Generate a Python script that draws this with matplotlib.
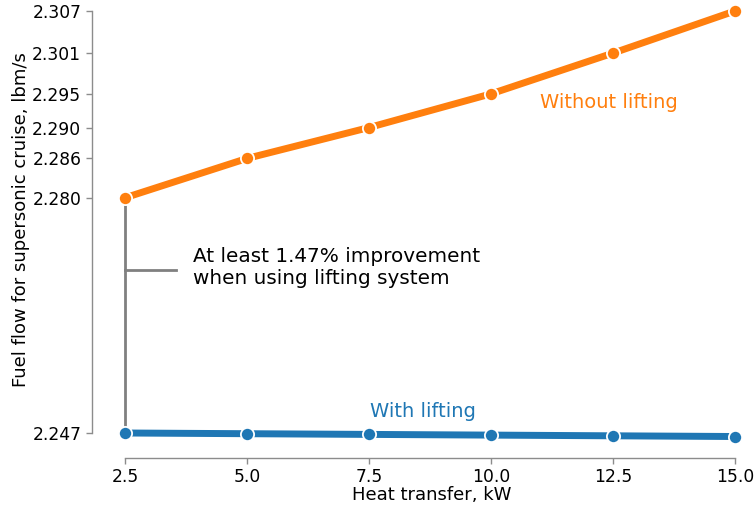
import numpy as np
import matplotlib
matplotlib.use("Agg")
import matplotlib.pyplot as plt

# data
heat_kw = [2.5, 5.0, 7.5, 10.0, 12.5, 15.0]
fuel_without = [2.2802, 2.2858, 2.2902, 2.2950, 2.3008, 2.3068]
fuel_with = [2.2467, 2.2466, 2.2465, 2.2464, 2.2463, 2.2462]

orange = "#ff7f0e"
blue = "#1f77b4"
spine_gray = "0.55"

fig = plt.figure(figsize=(7.56, 5.09), dpi=100)
W, H = 756, 509
ax_left, ax_right, ax_top, ax_bot = 91.7, 750, 2, 458
ax = fig.add_axes([ax_left / W, 1 - ax_bot / H, (ax_right - ax_left) / W, (ax_bot - ax_top) / H])

line_kw = dict(linewidth=5, marker="o", markersize=9.5, markeredgecolor="white", markeredgewidth=1.3)
ax.plot(heat_kw, fuel_without, color=orange, zorder=3, **line_kw)
ax.plot(heat_kw, fuel_with, color=blue, zorder=3, **line_kw)

# bracket showing the gap at the lowest heat transfer
ax.plot([heat_kw[0], heat_kw[0]], [fuel_without[0], fuel_with[0]], color="gray", lw=2, zorder=1)
ax.plot([heat_kw[0], 3.55], [2.2699, 2.2699], color="gray", lw=2, zorder=1)
ax.text(3.89, 2.2702, "At least 1.47% improvement\nwhen using lifting system",
        fontsize=14.4, va="center", ha="left", linespacing=1.2)

ax.text(11.0, 2.2937, "Without lifting", color=orange, fontsize=14, va="center", ha="left")
ax.text(7.52, 2.2498, "With lifting", color=blue, fontsize=14, va="center", ha="left")

# axis scales tuned to the reference pixel layout
xs = 48.8
ax.set_xlim(2.5 - (125 - ax_left) / xs, 15 + (ax_right - 735) / xs)
ys = 7022
ax.set_ylim(fuel_with[0] - (ax_bot - 433) / ys, fuel_with[0] + (433 - ax_top) / ys)

ax.set_xticks(heat_kw)
ax.set_xticklabels([f"{v:.1f}" for v in heat_kw])
yticks = [fuel_with[0]] + fuel_without
ax.set_yticks(yticks)
ax.set_yticklabels([f"{v:.3f}" for v in yticks])

ax.tick_params(axis="both", labelsize=12.3, color=spine_gray, length=4, width=1)

for side in ["top", "right"]:
    ax.spines[side].set_visible(False)
for side in ["left", "bottom"]:
    ax.spines[side].set_color(spine_gray)
    ax.spines[side].set_linewidth(1)
ax.spines["left"].set_bounds(fuel_with[0], fuel_without[-1])
ax.spines["bottom"].set_bounds(heat_kw[0], heat_kw[-1])

ax.set_xlabel("Heat transfer, kW", fontsize=13)
ax.set_ylabel("Fuel flow for supersonic cruise, lbm/s", fontsize=13)
aw, ah = ax_right - ax_left, ax_bot - ax_top
ax.xaxis.set_label_coords((432 - ax_left) / aw, (ax_bot - 486) / ah)
ax.yaxis.set_label_coords((30 - ax_left) / aw, (ax_bot - 220) / ah)

fig.savefig("out.png", dpi=100)
